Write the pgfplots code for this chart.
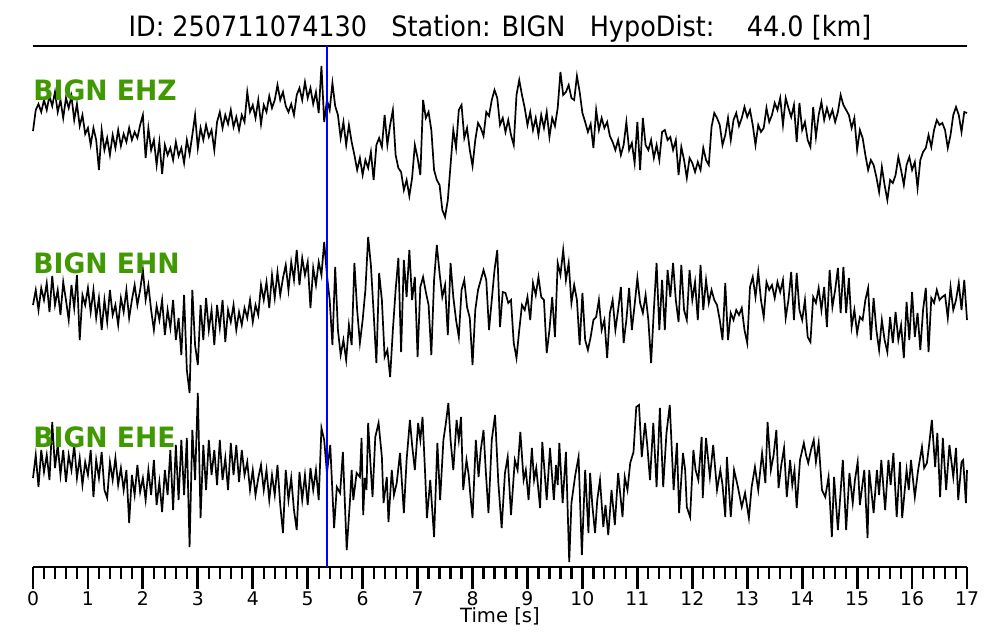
\documentclass[border=0pt]{standalone}
\usepackage{pgfplots}
\pgfplotsset{compat=1.18}
\usepackage{fontspec}
\setmainfont{DejaVu Sans}
\definecolor{lblgreen}{RGB}{64,153,0}
\begin{document}
\begin{tikzpicture}
\path[use as bounding box] (-16.5pt,-36.5pt) rectangle (483.5pt,283.5pt);
\begin{axis}[
  scale only axis, width=467pt, height=260.5pt,
  xmin=0, xmax=17, ymin=46, ymax=567, y dir=reverse,
  axis x line=box, axis y line=none,
  xtick={0,1,...,17}, minor x tick num=4,
  xtick pos=left, tick align=outside,
  major tick length=11pt, minor tick length=6pt,
  every major tick/.append style={line width=1.4pt, black},
  every minor tick/.append style={line width=1.1pt, black},
  axis line style={line width=0.9pt},
  /pgf/number format/assume math mode=true,
  xticklabel style={font=\fontsize{9.4}{10}\selectfont, inner sep=1pt},
  clip=false,
]
\addplot[black, line width=0.85pt] coordinates {(0,131)(0.05,110)(0.1,104)(0.15,112)(0.2,100)(0.25,110)(0.3,96)(0.35,106)(0.4,92)(0.45,112)(0.5,100)(0.55,118)(0.6,98)(0.65,108)(0.7,96)(0.75,120)(0.8,104)(0.85,126)(0.9,115)(0.95,134)(1,128)(1.05,145)(1.1,128)(1.15,140)(1.2,170)(1.25,130)(1.3,150)(1.35,138)(1.4,155)(1.45,135)(1.5,148)(1.55,130)(1.6,146)(1.65,134)(1.7,142)(1.75,128)(1.8,140)(1.85,132)(1.9,138)(1.95,125)(2,115)(2.05,158)(2.1,128)(2.15,150)(2.2,140)(2.25,165)(2.3,142)(2.35,174)(2.4,145)(2.45,155)(2.5,148)(2.55,160)(2.6,142)(2.65,156)(2.7,148)(2.75,163)(2.8,140)(2.85,154)(2.9,135)(2.95,115)(3,148)(3.05,128)(3.1,140)(3.15,125)(3.2,137)(3.25,130)(3.3,150)(3.35,122)(3.4,112)(3.45,128)(3.5,115)(3.55,124)(3.6,110)(3.65,127)(3.7,117)(3.75,130)(3.8,115)(3.85,122)(3.9,92)(3.95,112)(4,105)(4.05,118)(4.1,100)(4.15,124)(4.2,105)(4.25,112)(4.3,96)(4.35,108)(4.4,100)(4.45,85)(4.5,100)(4.55,92)(4.6,106)(4.65,112)(4.7,104)(4.75,115)(4.8,95)(4.85,88)(4.9,100)(4.95,82)(5,98)(5.05,88)(5.1,104)(5.15,92)(5.2,113)(5.25,66)(5.3,122)(5.35,100)(5.4,110)(5.45,83)(5.5,106)(5.55,115)(5.6,138)(5.65,122)(5.7,145)(5.75,125)(5.8,142)(5.85,155)(5.9,170)(5.95,158)(6,175)(6.05,160)(6.1,168)(6.15,152)(6.2,180)(6.25,145)(6.3,138)(6.35,147)(6.4,115)(6.45,145)(6.5,125)(6.55,110)(6.6,155)(6.65,168)(6.7,172)(6.75,190)(6.8,180)(6.85,196)(6.9,178)(6.95,145)(7,158)(7.05,175)(7.1,100)(7.15,118)(7.2,112)(7.25,130)(7.3,170)(7.35,180)(7.4,185)(7.45,210)(7.5,217)(7.55,200)(7.6,165)(7.65,130)(7.7,148)(7.75,110)(7.8,105)(7.85,138)(7.9,128)(7.95,150)(8,166)(8.05,140)(8.1,123)(8.15,128)(8.2,136)(8.25,112)(8.3,116)(8.35,100)(8.4,90)(8.45,98)(8.5,125)(8.55,118)(8.6,132)(8.65,120)(8.7,135)(8.75,145)(8.8,95)(8.85,80)(8.9,95)(8.95,108)(9,125)(9.05,112)(9.1,130)(9.15,118)(9.2,135)(9.25,115)(9.3,128)(9.35,112)(9.4,137)(9.45,118)(9.5,126)(9.55,108)(9.6,72)(9.65,95)(9.7,92)(9.75,85)(9.8,98)(9.85,100)(9.9,76)(9.95,92)(10,113)(10.05,122)(10.1,132)(10.15,124)(10.2,148)(10.25,110)(10.3,130)(10.35,118)(10.4,128)(10.45,122)(10.5,136)(10.55,142)(10.6,150)(10.65,140)(10.7,155)(10.75,145)(10.8,122)(10.85,150)(10.9,143)(10.95,163)(11,122)(11.05,170)(11.1,118)(11.15,145)(11.2,150)(11.25,140)(11.3,158)(11.35,145)(11.4,160)(11.45,132)(11.5,130)(11.55,140)(11.6,137)(11.65,150)(11.7,140)(11.75,175)(11.8,147)(11.85,160)(11.9,178)(11.95,158)(12,163)(12.05,172)(12.1,162)(12.15,170)(12.2,148)(12.25,160)(12.3,165)(12.35,127)(12.4,113)(12.45,118)(12.5,125)(12.55,145)(12.6,135)(12.65,118)(12.7,140)(12.75,120)(12.8,113)(12.85,126)(12.9,118)(12.95,107)(13,117)(13.05,110)(13.1,125)(13.15,145)(13.2,125)(13.25,132)(13.3,128)(13.35,108)(13.4,122)(13.45,115)(13.5,103)(13.55,110)(13.6,98)(13.65,125)(13.7,98)(13.75,108)(13.8,117)(13.85,105)(13.9,142)(13.95,103)(14,130)(14.05,122)(14.1,140)(14.15,147)(14.2,107)(14.25,137)(14.3,115)(14.35,102)(14.4,120)(14.45,108)(14.5,118)(14.55,110)(14.6,122)(14.65,112)(14.7,95)(14.75,105)(14.8,110)(14.85,115)(14.9,128)(14.95,118)(15,150)(15.05,130)(15.1,138)(15.15,155)(15.2,170)(15.25,160)(15.3,165)(15.35,177)(15.4,192)(15.45,167)(15.5,185)(15.55,200)(15.6,180)(15.65,183)(15.7,175)(15.75,157)(15.8,170)(15.85,185)(15.9,165)(15.95,157)(16,170)(16.05,162)(16.1,188)(16.15,160)(16.2,152)(16.25,148)(16.3,135)(16.35,147)(16.4,130)(16.45,120)(16.5,125)(16.55,123)(16.6,130)(16.65,148)(16.7,135)(16.75,115)(16.8,107)(16.85,115)(16.9,132)(16.95,112)(17,113)};
\addplot[black, line width=0.85pt] coordinates {(0,305)(0.05,290)(0.1,310)(0.15,288)(0.2,300)(0.25,283)(0.3,312)(0.35,276)(0.4,305)(0.45,290)(0.5,315)(0.55,282)(0.6,300)(0.65,320)(0.7,285)(0.75,308)(0.8,275)(0.85,340)(0.9,295)(0.95,305)(1,288)(1.05,312)(1.1,290)(1.15,318)(1.2,298)(1.25,330)(1.3,300)(1.35,322)(1.4,290)(1.45,315)(1.5,305)(1.55,325)(1.6,298)(1.65,312)(1.7,290)(1.75,318)(1.8,300)(1.85,285)(1.9,305)(1.95,290)(2,270)(2.05,300)(2.1,285)(2.15,310)(2.2,330)(2.25,306)(2.3,320)(2.35,300)(2.4,335)(2.45,310)(2.5,328)(2.55,300)(2.6,340)(2.65,318)(2.7,355)(2.75,295)(2.8,370)(2.85,393)(2.9,290)(2.95,345)(3,365)(3.05,305)(3.1,340)(3.15,298)(3.2,330)(3.25,310)(3.3,345)(3.35,305)(3.4,328)(3.45,300)(3.5,342)(3.55,310)(3.6,322)(3.65,305)(3.7,330)(3.75,312)(3.8,325)(3.85,308)(3.9,318)(3.95,300)(4,322)(4.05,305)(4.1,315)(4.15,285)(4.2,300)(4.25,282)(4.3,308)(4.35,275)(4.4,298)(4.45,272)(4.5,295)(4.55,278)(4.6,265)(4.65,290)(4.7,262)(4.75,280)(4.8,250)(4.85,285)(4.9,258)(4.95,275)(5,262)(5.05,308)(5.1,268)(5.15,285)(5.2,262)(5.25,275)(5.3,242)(5.35,275)(5.4,300)(5.45,345)(5.5,267)(5.55,330)(5.6,355)(5.65,340)(5.7,360)(5.75,325)(5.8,345)(5.85,263)(5.9,310)(5.95,343)(6,320)(6.05,290)(6.1,237)(6.15,265)(6.2,313)(6.25,363)(6.3,273)(6.35,300)(6.4,357)(6.45,350)(6.5,377)(6.55,330)(6.6,290)(6.65,258)(6.7,352)(6.75,260)(6.8,297)(6.85,250)(6.9,300)(6.95,277)(7,357)(7.05,287)(7.1,277)(7.15,292)(7.2,305)(7.25,355)(7.3,280)(7.35,245)(7.4,273)(7.45,297)(7.5,285)(7.55,335)(7.6,263)(7.65,297)(7.7,320)(7.75,337)(7.8,290)(7.85,280)(7.9,307)(7.95,318)(8,365)(8.05,310)(8.1,290)(8.15,280)(8.2,270)(8.25,280)(8.3,330)(8.35,300)(8.4,270)(8.45,250)(8.5,327)(8.55,292)(8.6,293)(8.65,303)(8.7,300)(8.75,343)(8.8,358)(8.85,330)(8.9,305)(8.95,310)(9,297)(9.05,320)(9.1,283)(9.15,295)(9.2,277)(9.25,297)(9.3,300)(9.35,353)(9.4,330)(9.45,297)(9.5,337)(9.55,263)(9.6,275)(9.65,250)(9.7,280)(9.75,263)(9.8,303)(9.85,285)(9.9,300)(9.95,345)(10,293)(10.05,340)(10.1,350)(10.15,337)(10.2,320)(10.25,317)(10.3,300)(10.35,330)(10.4,320)(10.45,358)(10.5,313)(10.55,300)(10.6,330)(10.65,310)(10.7,287)(10.75,343)(10.8,320)(10.85,288)(10.9,330)(10.95,305)(11,278)(11.05,303)(11.1,313)(11.15,295)(11.2,320)(11.25,363)(11.3,310)(11.35,263)(11.4,330)(11.45,280)(11.5,330)(11.55,270)(11.6,297)(11.65,263)(11.7,300)(11.75,322)(11.8,265)(11.85,310)(11.9,320)(11.95,270)(12,300)(12.05,282)(12.1,320)(12.15,265)(12.2,310)(12.25,280)(12.3,303)(12.35,290)(12.4,300)(12.45,305)(12.5,320)(12.55,340)(12.6,283)(12.65,340)(12.7,313)(12.75,320)(12.8,310)(12.85,315)(12.9,308)(12.95,330)(13,343)(13.05,287)(13.1,277)(13.15,297)(13.2,272)(13.25,300)(13.3,317)(13.35,282)(13.4,290)(13.45,285)(13.5,298)(13.55,282)(13.6,292)(13.65,280)(13.7,318)(13.75,300)(13.8,272)(13.85,320)(13.9,273)(13.95,310)(14,320)(14.05,300)(14.1,337)(14.15,342)(14.2,297)(14.25,303)(14.3,288)(14.35,310)(14.4,287)(14.45,327)(14.5,270)(14.55,307)(14.6,290)(14.65,268)(14.7,313)(14.75,267)(14.8,313)(14.85,278)(14.9,327)(14.95,310)(15,333)(15.05,317)(15.1,320)(15.15,300)(15.2,288)(15.25,340)(15.3,298)(15.35,330)(15.4,350)(15.45,320)(15.5,340)(15.55,352)(15.6,317)(15.65,343)(15.7,312)(15.75,340)(15.8,325)(15.85,358)(15.9,302)(15.95,340)(16,292)(16.05,337)(16.1,313)(16.15,350)(16.2,310)(16.25,288)(16.3,352)(16.35,298)(16.4,303)(16.45,290)(16.5,300)(16.55,297)(16.6,295)(16.65,318)(16.7,287)(16.75,310)(16.8,300)(16.85,283)(16.9,310)(16.95,280)(17,320)};
\addplot[black, line width=0.85pt] coordinates {(0,478)(0.05,455)(0.1,487)(0.15,450)(0.2,472)(0.25,455)(0.3,480)(0.35,422)(0.4,468)(0.45,445)(0.5,475)(0.55,450)(0.6,482)(0.65,455)(0.7,470)(0.75,445)(0.8,478)(0.85,458)(0.9,485)(0.95,462)(1,475)(1.05,450)(1.1,497)(1.15,460)(1.2,478)(1.25,452)(1.3,490)(1.35,498)(1.4,462)(1.45,480)(1.5,458)(1.55,485)(1.6,468)(1.65,490)(1.7,470)(1.75,523)(1.8,475)(1.85,495)(1.9,465)(1.95,492)(2,478)(2.05,500)(2.1,470)(2.15,495)(2.2,460)(2.25,505)(2.3,482)(2.35,512)(2.4,470)(2.45,495)(2.5,450)(2.55,510)(2.6,445)(2.65,500)(2.7,440)(2.75,495)(2.8,438)(2.85,547)(2.9,430)(2.95,480)(3,393)(3.05,518)(3.1,445)(3.15,490)(3.2,440)(3.25,475)(3.3,450)(3.35,485)(3.4,440)(3.45,480)(3.5,458)(3.55,490)(3.6,443)(3.65,475)(3.7,445)(3.75,482)(3.8,450)(3.85,475)(3.9,462)(3.95,490)(4,470)(4.05,495)(4.1,478)(4.15,465)(4.2,490)(4.25,470)(4.3,500)(4.35,475)(4.4,495)(4.45,465)(4.5,505)(4.55,533)(4.6,470)(4.65,500)(4.7,478)(4.75,510)(4.8,530)(4.85,472)(4.9,500)(4.95,475)(5,505)(5.05,468)(5.1,490)(5.15,470)(5.2,500)(5.25,428)(5.3,440)(5.35,473)(5.41,445)(5.48,528)(5.53,487)(5.59,493)(5.64,452)(5.71,550)(5.77,500)(5.8,470)(5.83,500)(5.89,473)(5.95,477)(5.98,438)(6.01,515)(6.04,478)(6.07,490)(6.1,423)(6.14,462)(6.18,497)(6.23,437)(6.29,423)(6.35,457)(6.38,503)(6.44,477)(6.47,522)(6.53,470)(6.57,495)(6.62,483)(6.68,453)(6.75,513)(6.8,460)(6.86,420)(6.9,445)(6.95,470)(7.01,423)(7.05,440)(7.09,417)(7.14,477)(7.17,518)(7.23,480)(7.3,537)(7.36,443)(7.41,500)(7.47,440)(7.51,425)(7.56,403)(7.6,440)(7.65,470)(7.71,420)(7.75,440)(7.79,417)(7.83,490)(7.89,460)(7.93,475)(7.96,495)(8,518)(8.06,440)(8.11,477)(8.15,450)(8.2,430)(8.24,470)(8.29,513)(8.35,440)(8.41,415)(8.47,483)(8.53,528)(8.59,473)(8.64,457)(8.7,515)(8.77,460)(8.82,470)(8.87,432)(8.93,480)(8.97,470)(9.02,500)(9.08,448)(9.12,480)(9.16,468)(9.23,508)(9.27,442)(9.35,500)(9.41,448)(9.48,500)(9.52,465)(9.55,485)(9.58,443)(9.64,503)(9.7,452)(9.76,562)(9.8,503)(9.87,475)(9.93,457)(9.99,555)(10.05,470)(10.11,533)(10.14,473)(10.18,505)(10.23,533)(10.27,500)(10.32,480)(10.38,527)(10.42,505)(10.47,535)(10.53,490)(10.59,525)(10.65,473)(10.73,517)(10.77,477)(10.82,490)(10.87,463)(10.93,452)(10.98,407)(11.03,405)(11.08,457)(11.14,423)(11.18,445)(11.23,480)(11.29,423)(11.35,487)(11.41,408)(11.47,487)(11.53,433)(11.59,405)(11.66,490)(11.72,443)(11.76,513)(11.83,453)(11.87,470)(11.9,507)(11.96,517)(12.02,450)(12.06,470)(12.11,480)(12.17,437)(12.19,498)(12.25,438)(12.32,477)(12.38,445)(12.45,490)(12.51,470)(12.55,485)(12.6,517)(12.63,457)(12.7,517)(12.76,470)(12.83,487)(12.9,507)(12.96,493)(13.03,518)(13.08,487)(13.14,467)(13.2,490)(13.27,453)(13.33,483)(13.37,422)(13.43,470)(13.48,455)(13.53,430)(13.57,488)(13.62,465)(13.67,448)(13.72,497)(13.78,460)(13.82,485)(13.86,470)(13.9,508)(13.96,460)(14.03,443)(14.07,455)(14.11,463)(14.16,450)(14.21,440)(14.25,462)(14.3,443)(14.36,490)(14.42,497)(14.48,477)(14.54,537)(14.58,477)(14.65,530)(14.74,460)(14.8,530)(14.86,473)(14.92,503)(14.96,480)(15.01,462)(15.05,505)(15.13,470)(15.19,538)(15.22,470)(15.3,513)(15.36,470)(15.4,495)(15.44,460)(15.51,510)(15.57,460)(15.61,485)(15.66,453)(15.72,517)(15.78,462)(15.82,518)(15.9,470)(15.94,490)(15.98,460)(16.05,497)(16.11,470)(16.18,447)(16.22,468)(16.27,463)(16.31,445)(16.36,420)(16.42,467)(16.46,433)(16.51,497)(16.56,438)(16.62,490)(16.68,445)(16.75,477)(16.8,448)(16.84,500)(16.9,462)(16.93,460)(16.98,503)(17,470)};
\addplot[blue, line width=0.75pt] coordinates {(5.35,46)(5.35,567)};
\node[anchor=base, inner sep=0pt] at (axis cs:8.5,37) {\scalebox{0.911}[1]{\fontsize{14}{16}\selectfont ID: 250711074130~~~Station: BIGN~~~HypoDist:~~~~44.0 [km]}};
\node[anchor=base west, inner sep=0pt, text=lblgreen] at (axis cs:0,101) {\scalebox{0.95}[1]{\fontsize{14}{16}\selectfont\bfseries BIGN EHZ}};
\node[anchor=base west, inner sep=0pt, text=lblgreen] at (axis cs:0,274) {\scalebox{0.95}[1]{\fontsize{14}{16}\selectfont\bfseries BIGN EHN}};
\node[anchor=base west, inner sep=0pt, text=lblgreen] at (axis cs:0,447) {\scalebox{0.95}[1]{\fontsize{14}{16}\selectfont\bfseries BIGN EHE}};
\node[anchor=base, inner sep=0pt] at (axis cs:8.5,622) {\fontsize{9.8}{11}\selectfont Time [s]};
\end{axis}
\end{tikzpicture}
\end{document}
